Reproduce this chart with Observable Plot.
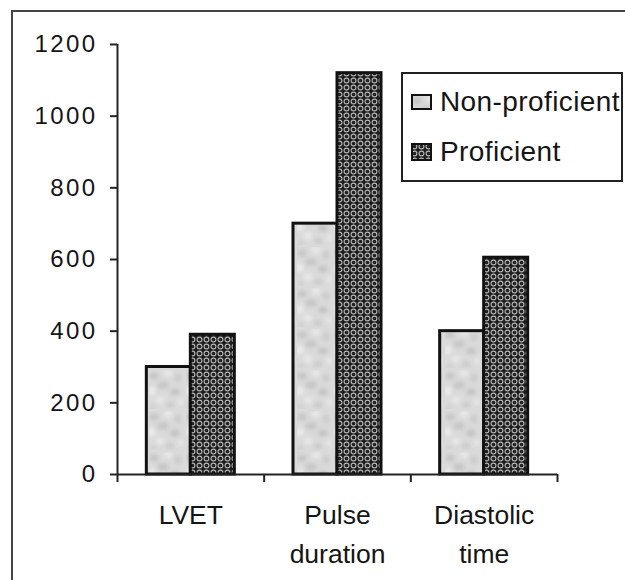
<!DOCTYPE html>
<html>
<head>
<meta charset="utf-8">
<script src="https://cdn.jsdelivr.net/npm/d3@7"></script>
<script src="https://cdn.jsdelivr.net/npm/@observablehq/plot@0.6"></script>
<style>
  html, body { margin: 0; padding: 0; background: #fff; }
  #wrap { position: relative; width: 625px; height: 580px; overflow: hidden; font-family: "Liberation Sans", Arial, sans-serif; color: #151515; }
  #frameline { position: absolute; left: 11px; top: 10px; width: 620px; height: 580px; border-left: 2px solid #444; border-top: 2px solid #444; box-sizing: border-box; }
  #chart { position: absolute; left: 0; top: 0; }
  #legend { position: absolute; left: 401px; top: 72px; width: 222px; height: 110px; border: 2px solid #222; box-sizing: border-box; background: #fff; }
  .lg-row { position: absolute; left: 8px; display: flex; align-items: center; font-size: 28px; letter-spacing: 0.4px; white-space: nowrap; }
  .lg-row svg { margin-right: 8px; }
  g[aria-label="y-axis tick label"] text { letter-spacing: 2.4px; }
  g[aria-label="x-labels"] text { letter-spacing: 1.3px; }
</style>
</head>
<body>
<svg width="0" height="0" style="position:absolute">
  <defs>
    <filter id="soft" x="0" y="0" width="1" height="1">
      <feGaussianBlur stdDeviation="2"/>
    </filter>
    <pattern id="pNon" patternUnits="userSpaceOnUse" width="37" height="41">
      <rect width="37" height="41" fill="#dadada"/>
      <g filter="url(#soft)">
        <ellipse cx="6" cy="7" rx="5" ry="3" fill="#c2c2c2"/>
        <ellipse cx="20" cy="4" rx="4" ry="2.5" fill="#efefef"/>
        <ellipse cx="30" cy="9" rx="3" ry="4" fill="#c8c8c8"/>
        <ellipse cx="15" cy="16" rx="6" ry="3.5" fill="#c4c4c4"/>
        <ellipse cx="4" cy="22" rx="3" ry="4" fill="#f0f0f0"/>
        <ellipse cx="27" cy="23" rx="5" ry="3" fill="#bfbfbf"/>
        <ellipse cx="12" cy="31" rx="4" ry="3" fill="#ececec"/>
        <ellipse cx="33" cy="33" rx="3" ry="3" fill="#e9e9e9"/>
        <ellipse cx="22" cy="36" rx="4" ry="2.5" fill="#c6c6c6"/>
        <ellipse cx="5" cy="38" rx="3" ry="2" fill="#cbcbcb"/>
      </g>
    </pattern>
    <pattern id="pPro" patternUnits="userSpaceOnUse" width="7" height="7">
      <rect width="7" height="7" fill="#1e1e1e"/>
      <circle cx="3.5" cy="3.5" r="2.4" fill="none" stroke="#b5b5b5" stroke-width="1.1"/>
      <rect x="3" y="3" width="1" height="1" fill="#2a2a2a"/>
    </pattern>
  </defs>
</svg>
<div id="wrap">
  <div id="frameline"></div>
  <div id="chart"></div>
  <div id="legend"></div>
</div>
<script>
// ---- data ----
const categories = ["LVET", "Pulse\nduration", "Diastolic\ntime"];
const seriesNames = ["Non-proficient", "Proficient"];
const nonProficient = [300, 700, 400];
const proficient = [390, 1120, 605];
const yTicks = [0, 200, 400, 600, 800, 1000, 1200];

// ---- build table ----
const seriesValues = [nonProficient, proficient];
const seriesFills = ["url(#pNon)", "url(#pPro)"];
const rows = [];
seriesValues.forEach((vals, s) => {
  vals.forEach((v, i) => rows.push({cat: categories[i], i, s, series: seriesNames[s], value: v}));
});

const groupHalf = 0.3; // fraction of a category band occupied by each half of a group
const barsFor = (s) => Plot.rectY(rows.filter(d => d.s === s), {
  x1: d => d.i + 0.5 - groupHalf + s * groupHalf,
  x2: d => d.i + 0.5 + s * groupHalf,
  y: "value",
  fill: seriesFills[s],
  stroke: "#111",
  strokeWidth: 3
});

const chart = Plot.plot({
  width: 625,
  height: 580,
  marginLeft: 117,
  marginRight: 68,
  marginTop: 44,
  marginBottom: 106,
  style: {fontFamily: "Liberation Sans, Arial, sans-serif", background: "transparent", color: "#151515"},
  x: {domain: [0, categories.length], label: null},
  y: {domain: [0, 1200], label: null},
  marks: [
    barsFor(0),
    barsFor(1),
    Plot.ruleX([0], {stroke: "#222", strokeWidth: 2}),
    Plot.ruleY([0], {stroke: "#222", strokeWidth: 2}),
    Plot.axisY({ticks: yTicks, tickFormat: d => String(d), tickSize: 7, tickPadding: 13, fontSize: 24, stroke: "#222", strokeWidth: 2, label: null, fill: "#151515"}),
    Plot.axisX({ticks: d3.range(categories.length + 1), tickSize: 8, tickFormat: () => "", stroke: "#222", strokeWidth: 2, label: null}),
    Plot.text(categories, {
      x: (d, i) => i + 0.5,
      frameAnchor: "bottom",
      lineAnchor: "top",
      dy: 22,
      fontSize: 26.5,
      lineHeight: 1.46,
      fill: "#151515",
      ariaLabel: "x-labels"
    })
  ]
});
document.getElementById("chart").appendChild(chart);

// ---- legend ----
const legend = document.getElementById("legend");
const legendTops = [12, 62];
const swatchH = [15, 17];
seriesNames.forEach((name, s) => {
  const row = document.createElement("div");
  row.className = "lg-row";
  row.style.top = legendTops[s] + "px";
  row.innerHTML = `<svg width="21" height="${swatchH[s] + 1}"><rect x="1" y="1" width="19" height="${swatchH[s] - 1}" fill="${seriesFills[s]}" stroke="#111" stroke-width="2"/></svg><span>${name}</span>`;
  legend.appendChild(row);
});
</script>
</body>
</html>
